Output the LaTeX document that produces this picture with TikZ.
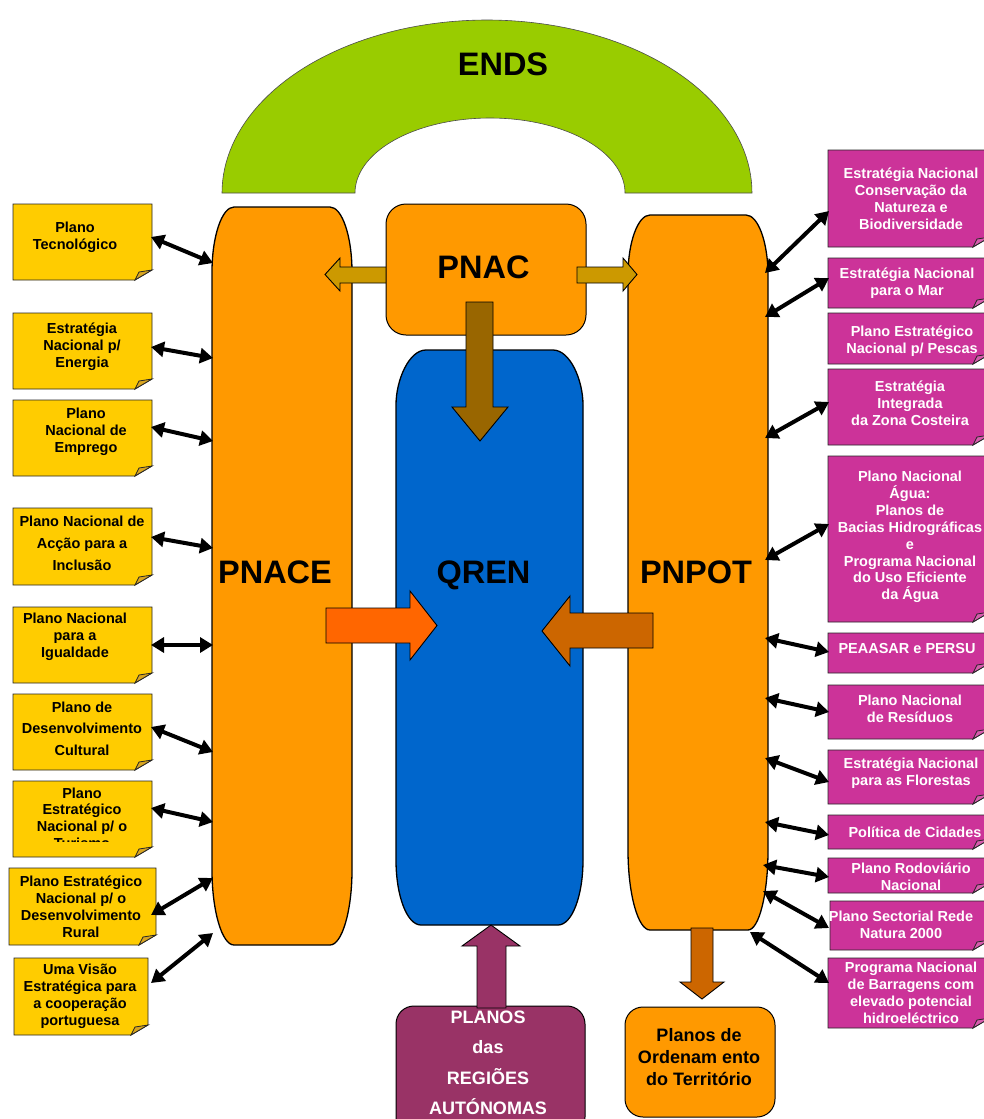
\documentclass[tikz,border=0pt]{standalone}
\usepackage{fontspec}
\setmainfont{Liberation Sans}
\usetikzlibrary{arrows.meta}
\definecolor{endsgreen}{HTML}{99CC00}
\definecolor{colorange}{HTML}{FF9900}
\definecolor{qrenblue}{HTML}{0066CC}
\definecolor{noteyellow}{HTML}{FFCC00}
\definecolor{foldyellow}{HTML}{D9A520}
\definecolor{notemag}{HTML}{CC3399}
\definecolor{foldmag}{HTML}{D65CAD}
\definecolor{raplum}{HTML}{993366}
\definecolor{pnacside}{HTML}{CC9900}
\definecolor{pnacdown}{HTML}{996600}
\definecolor{redorange}{HTML}{FF6600}
\definecolor{darkorange}{HTML}{CC6600}
\tikzset{
  colline/.style={draw=black, line width=1.3pt},
  blockarrow/.style={draw=black, line width=0.9pt, line join=miter},
  boxline/.style={draw=black!85, line width=0.8pt},
  bigtxt/.style={font=\bfseries\fontsize{32.5}{36}\selectfont, inner sep=0pt, anchor=base},
  ltxt/.style={font=\bfseries\fontsize{14.5}{17}\selectfont, align=center, inner sep=0pt, text=black},
  rtxt/.style={font=\bfseries\fontsize{14.5}{17}\selectfont, align=center, inner sep=0pt, text=white},
  biarrow/.style={line width=4pt, {Triangle[length=13pt,width=15pt]}-{Triangle[length=13pt,width=15pt]}},
}
\newcommand{\mynote}[6]{%
  \draw[boxline, fill=#5] (#1,#2) -- (#3,#2) -- (#3,#4-10) -- (#3-17,#4) -- (#1,#4) -- cycle;
  \draw[boxline, fill=#6] (#3-17,#4) -- (#3-13,#4-8) -- (#3,#4-10) -- cycle;
}
\begin{document}
\begin{tikzpicture}[x=1pt,y=-1pt]
\useasboundingbox[fill=white] (0,0) rectangle (984,1119);

% ENDS arch
\filldraw[fill=endsgreen, draw=black!70, line width=0.6pt]
  plot[domain=180:0,samples=90] ({487+265*cos(\x)},{193-173*sin(\x)})
  -- plot[domain=0:180,samples=90] ({490+135*cos(\x)},{193-75*sin(\x)}) -- cycle;
\node[bigtxt] (ends) at (503,75) {ENDS};

% columns
\draw[colline, fill=colorange] (212,272) .. controls (212,236) and (222,207) .. (234,207)
  -- (330,207) .. controls (342,207) and (352,236) .. (352,272)
  -- (352,870) .. controls (352,911) and (342,945) .. (330,945)
  -- (234,945) .. controls (222,945) and (212,911) .. (212,870) -- cycle;
\draw[colline, fill=colorange] (628,275) .. controls (628,242) and (638,215) .. (650,215)
  -- (746,215) .. controls (758,215) and (768,242) .. (768,275)
  -- (768,850) .. controls (768,894) and (759,930) .. (748,930)
  -- (650,930) .. controls (638,930) and (628,894) .. (628,850) -- cycle;
\draw[colline, fill=qrenblue] (396,405) .. controls (396,380) and (409,350) .. (426,350)
  -- (553,350) .. controls (570,350) and (583,380) .. (583,405)
  -- (583,860) .. controls (583,896) and (572,925) .. (558,925)
  -- (421,925) .. controls (407,925) and (396,896) .. (396,860) -- cycle;

% PNAC box and its arrows
\draw[blockarrow, fill=pnacside] (388,267) -- (340,267) -- (340,258) -- (325,274.5) -- (340,291) -- (340,283) -- (388,283) -- cycle;
\draw[colline, line width=1pt, fill=colorange, rounded corners=20pt] (386,204) rectangle (586,335);
\node[bigtxt] (pnac) at (483.5,278) {PNAC};
\draw[blockarrow, fill=pnacside] (577,267) -- (623,267) -- (623,258) -- (637,274.5) -- (623,291) -- (623,283) -- (577,283) -- cycle;
\draw[blockarrow, fill=pnacdown] (466,302) -- (466,407) -- (452,407) -- (480,441) -- (508,407) -- (493,407) -- (493,302) -- cycle;

% arrows into QREN
\draw[blockarrow, fill=redorange] (326,608) -- (410,608) -- (410,591) -- (437,625.5) -- (410,660) -- (410,643) -- (326,643) -- cycle;
\draw[blockarrow, fill=darkorange] (653,613) -- (570,613) -- (570,596) -- (542,631) -- (570,666) -- (570,648) -- (653,648) -- cycle;

% big labels
\node[bigtxt] (pnace) at (275,583) {PNACE};
\node[bigtxt] (qren) at (483.5,583) {QREN};
\node[bigtxt] (pnpot) at (696,583) {PNPOT};

% bottom boxes
\draw[blockarrow, fill=darkorange] (691,928) -- (691,982) -- (680,982) -- (702,999) -- (724,982) -- (713,982) -- (713,928) -- cycle;
\draw[colline, line width=1pt, fill=raplum, rounded corners=18pt] (396,1006) rectangle (585,1135);
\draw[blockarrow, fill=raplum] (477,1008) -- (477,946) -- (462,946) -- (491,925) -- (520,946) -- (506,946) -- (506,1008) -- cycle;
\node[font=\bfseries\fontsize{18}{30.5}\selectfont, align=center, inner sep=0pt, text=white] (ra) at (488,1063) {PLANOS\\das\\REGIÕES\\AUTÓNOMAS};
\draw[colline, line width=1pt, fill=colorange, rounded corners=18pt] (625,1007) rectangle (775,1117);
\node[font=\bfseries\fontsize{18}{22}\selectfont, align=center, inner sep=0pt] (pot) at (699,1057) {Planos de\\Ordenam ento\\do Território};

% left notes
\mynote{13}{204}{152}{280}{noteyellow}{foldyellow}
\node[ltxt] (t1) at (75,237) {Plano\\Tecnológico};
\mynote{13}{313}{152}{389}{noteyellow}{foldyellow}
\node[ltxt] (t2) at (82,347) {Estratégia\\Nacional p/\\Energia};
\mynote{13}{400}{152}{476}{noteyellow}{foldyellow}
\node[ltxt] (t3) at (86,432) {Plano\\Nacional de\\Emprego};
\mynote{13}{508}{152}{585}{noteyellow}{foldyellow}
\node[ltxt, font=\bfseries\fontsize{14.5}{22}\selectfont] (t4) at (82,543) {Plano Nacional de\\Acção para a\\Inclusão};
\mynote{13}{607}{152}{683}{noteyellow}{foldyellow}
\node[ltxt] (t5) at (75,637) {Plano Nacional\\para a\\Igualdade};
\mynote{13}{694}{152}{770}{noteyellow}{foldyellow}
\node[ltxt, font=\bfseries\fontsize{14.5}{21.5}\selectfont] (t6) at (82,728.5) {Plano de\\Desenvolvimento\\Cultural};
\mynote{13}{781}{152}{857}{noteyellow}{foldyellow}
\begin{scope}
  \clip (0,775) rectangle (160,841);
  \node[ltxt, font=\bfseries\fontsize{14.5}{16.6}\selectfont] (t7) at (82,818) {Plano\\Estratégico\\Nacional p/ o\\Turismo};
\end{scope}
\mynote{9}{868}{156}{945}{noteyellow}{foldyellow}
\node[ltxt] (t8) at (81,906.5) {Plano Estratégico\\Nacional p/ o\\Desenvolvimento\\Rural};
\mynote{14}{958}{148}{1035}{noteyellow}{foldyellow}
\node[ltxt] (t9) at (80,996) {Uma Visão\\Estratégica para\\a cooperação\\portuguesa};

% right notes
\mynote{828}{150}{990}{247}{notemag}{foldmag}
\node[rtxt] (r1) at (911,199) {Estratégia Nacional\\Conservação da\\Natureza e\\Biodiversidade};
\mynote{828}{258}{990}{308}{notemag}{foldmag}
\node[rtxt] (r2) at (907,283) {Estratégia Nacional\\para o Mar};
\mynote{828}{313}{990}{364}{notemag}{foldmag}
\node[rtxt] (r3) at (912,341) {Plano Estratégico\\Nacional p/ Pescas};
\mynote{828}{369}{990}{445}{notemag}{foldmag}
\node[rtxt] (r4) at (910,403) {Estratégia\\Integrada\\da Zona Costeira};
\mynote{828}{456}{990}{622}{notemag}{foldmag}
\node[rtxt, font=\bfseries\fontsize{14.5}{16.9}\selectfont] (r5) at (910,537) {Plano Nacional\\Água:\\Planos de\\Bacias Hidrográficas\\e\\Programa Nacional\\do Uso Eficiente\\da Água};
\mynote{828}{633}{990}{673}{notemag}{foldmag}
\node[rtxt] (r6) at (907,648) {PEAASAR e PERSU};
\mynote{828}{685}{990}{739}{notemag}{foldmag}
\node[rtxt] (r7) at (910,708.5) {Plano Nacional\\de Resíduos};
\mynote{828}{750}{990}{804}{notemag}{foldmag}
\node[rtxt] (r8) at (911,773.5) {Estratégia Nacional\\para as Florestas};
\mynote{828}{815}{990}{849}{notemag}{foldmag}
\node[rtxt] (r9) at (915,832) {Política de Cidades};
\mynote{828}{858}{990}{893}{notemag}{foldmag}
\node[rtxt] (r10) at (911,877) {Plano Rodoviário\\Nacional};
\mynote{830}{901}{990}{950}{notemag}{foldmag}
\node[rtxt] (r11) at (901,925) {Plano Sectorial Rede\\Natura 2000};
\mynote{828}{958}{990}{1028}{notemag}{foldmag}
\node[rtxt] (r12) at (911,993) {Programa Nacional\\de Barragens com\\elevado potencial\\hidroeléctrico};

% connector end points
\coordinate (la1) at (151,237); \coordinate (lb1) at (213,263);
\coordinate (la2) at (151,347); \coordinate (lb2) at (213,358);
\coordinate (la3) at (151,427); \coordinate (lb3) at (213,441);
\coordinate (la4) at (151,537); \coordinate (lb4) at (213,548);
\coordinate (la5) at (151,645); \coordinate (lb5) at (213,645);
\coordinate (la6) at (151,727); \coordinate (lb6) at (213,752);
\coordinate (la7) at (151,808); \coordinate (lb7) at (213,822);
\coordinate (la8) at (151,915); \coordinate (lb8) at (213,878);
\coordinate (la9) at (151,983); \coordinate (lb9) at (213,933);
\coordinate (ra1) at (765,273); \coordinate (rb1) at (829,211);
\coordinate (ra2) at (765,317); \coordinate (rb2) at (829,278);
\coordinate (ra4) at (765,438); \coordinate (rb4) at (829,402);
\coordinate (ra5) at (765,560); \coordinate (rb5) at (829,524);
\coordinate (ra6) at (765,638); \coordinate (rb6) at (829,652);
\coordinate (ra7) at (765,698); \coordinate (rb7) at (829,712);
\coordinate (ra8) at (765,758); \coordinate (rb8) at (829,782);
\coordinate (ra9) at (765,822); \coordinate (rb9) at (829,835);
\coordinate (ra10) at (763,865); \coordinate (rb10) at (829,877);
\coordinate (ra11) at (763,891); \coordinate (rb11) at (829,928);
\coordinate (ra12) at (750,932); \coordinate (rb12) at (829,983);

\foreach \i in {1,...,9} { \draw[biarrow] (la\i) -- (lb\i); }
\foreach \i in {1,2,4,5,6,7,8,9,10,11,12} { \draw[biarrow] (ra\i) -- (rb\i); }
\end{tikzpicture}
\end{document}
